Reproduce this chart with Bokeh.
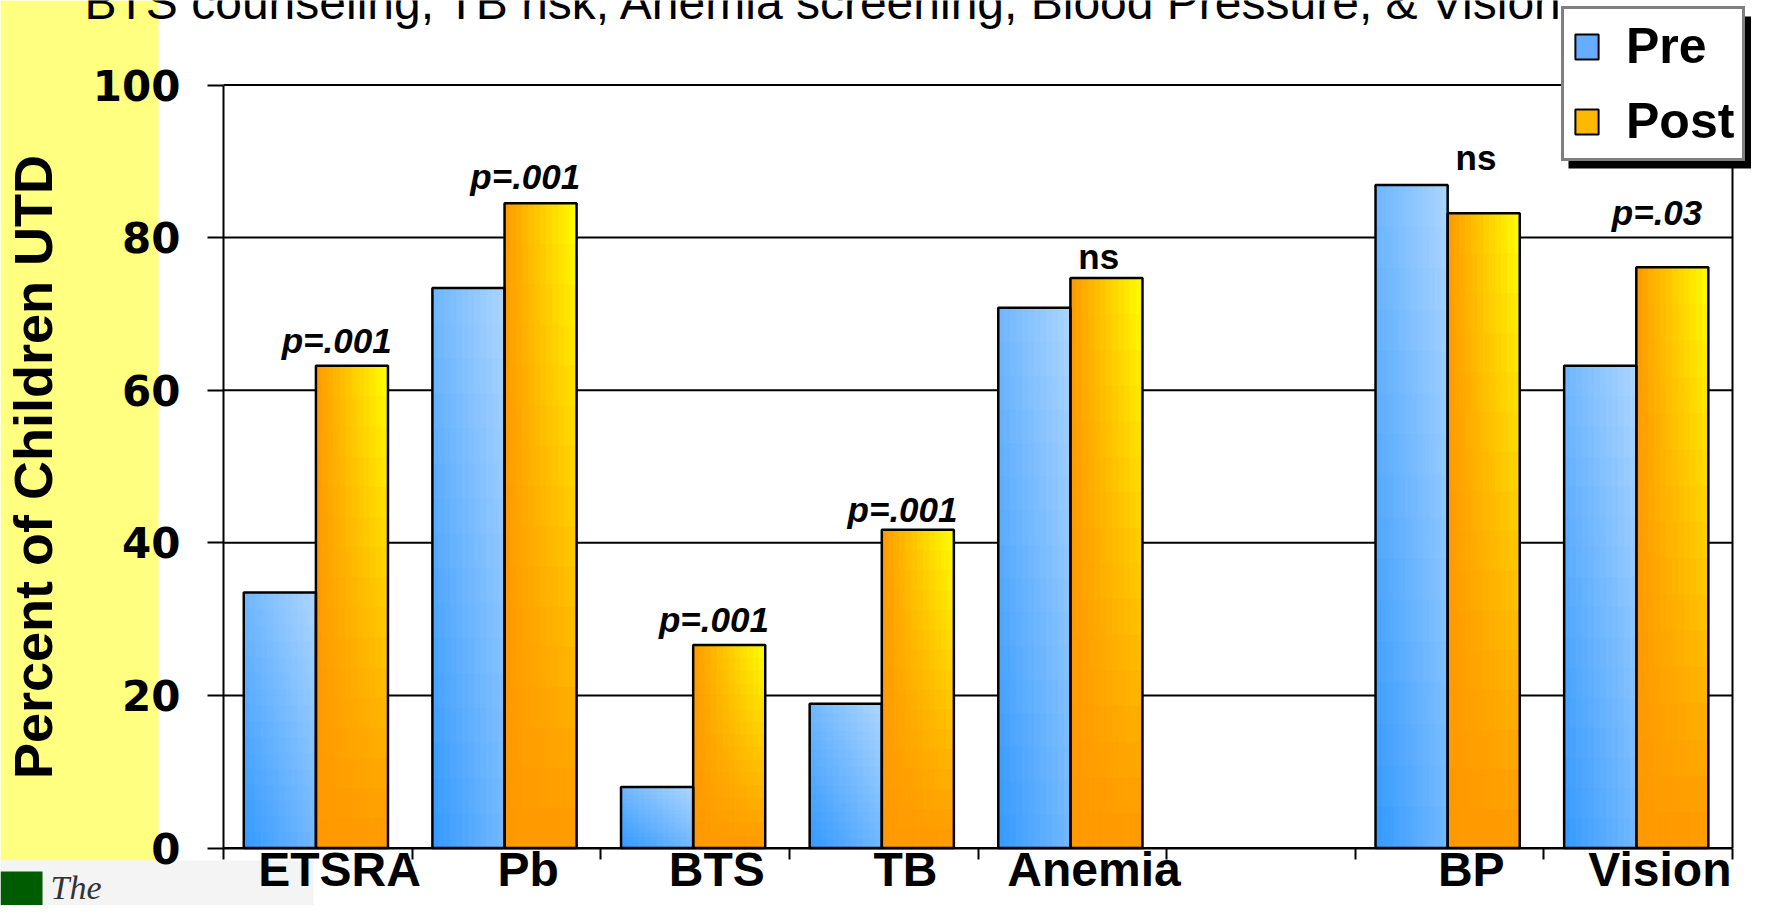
from bokeh.plotting import figure
from bokeh.models import (Range1d, FixedTicker, Legend, LegendItem, Label,
                          BoxAnnotation)
from bokeh.core.properties import value
from bokeh.embed import file_html
from bokeh.resources import INLINE

# ---------------- data ----------------
categories = ["ETSRA", "Pb", "BTS", "TB", "Anemia", "", "BP", "Vision"]
pre = [33.5, 73.4, 8.0, 18.9, 70.8, None, 86.9, 63.2]
post = [63.2, 84.5, 26.6, 41.7, 74.7, None, 83.2, 76.1]
notes = ["p=.001", "p=.001", "p=.001", "p=.001", "ns", "", "ns", "p=.03"]
note_heights = [65.0, 86.4, 28.4, 42.8, 75.9, None, 88.9, 81.7]
y_ticks = [0, 20, 40, 60, 80, 100]
series_names = ["Pre", "Post"]
title_text = "BTS counseling, TB risk, Anemia screening, Blood Pressure, & Vision"
y_title = "Percent of Children UTD"

# ---------------- layout (pixels) ----------------
W, H = 1751, 905
AX_L, AX_R = 223.0, 1732.0      # x pixel of category axis start / end
Y100, Y0 = 84.5, 847.5          # y pixel of 100 and 0
n = len(categories)
slot = (AX_R - AX_L) / n
unit = (Y0 - Y100) / 100.0

p = figure(width=W, height=H, output_backend="svg", toolbar_location=None,
           x_range=Range1d(-AX_L / slot, n + (W - AX_R) / slot),
           y_range=Range1d(-(H - Y0) / unit, 100 + Y100 / unit),
           min_border=0, min_border_left=0, min_border_right=0,
           min_border_top=0, min_border_bottom=0)
p.background_fill_color = "white"
p.border_fill_color = "white"
p.outline_line_color = None
p.xgrid.visible = False
p.ygrid.visible = False


def sbox(x0, x1, y0, y1, color, level="underlay"):
    """screen-space box given top-left pixel coordinates"""
    return BoxAnnotation(left=x0, right=x1, top=H - y0, bottom=H - y1,
                         left_units="screen", right_units="screen",
                         top_units="screen", bottom_units="screen",
                         fill_color=color, fill_alpha=1, line_alpha=0,
                         level=level)


# background decorations (yellow strip, logo block)
p.add_layout(sbox(0, 158, 0, 860, "#ffff80"))
p.add_layout(sbox(0, 313, 860, H, "#f4f4f4"))
p.add_layout(sbox(0, 42, 871, H, "#005c00"))
p.add_layout(Label(x=50, y=0, x_units="screen", y_units="screen",
                   text="The", text_font="Liberation Serif", text_font_style="italic",
                   text_font_size="34px", text_color="#333333", text_baseline="bottom"))

# top (cut-off) subtitle text: baseline at ~19px from the top
p.add_layout(Label(x=84, y=H - 19 + 0.3465 * 48, x_units="screen", y_units="screen",
                   text=title_text, text_font="Liberation Sans", text_font_size="48px",
                   text_color="black", text_baseline="middle"))

# grid lines and right border
p.segment(x0=[0] * len(y_ticks), x1=[n] * len(y_ticks), y0=y_ticks, y1=y_ticks,
          line_color="black", line_width=2)
p.segment(x0=[n], x1=[n], y0=[0], y1=[100], line_color="black", line_width=2)

# ---------------- bars with gradient ----------------
def lerp(c0, c1, t):
    return "#%02x%02x%02x" % tuple(int(round(a + (b - a) * t)) for a, b in zip(c0, c1))


PRE0, PRE1 = (51, 153, 255), (172, 213, 255)
POST0, POST1 = (255, 153, 0), (255, 255, 0)
NX, NY = 12, 16

cells = {"left": [], "right": [], "bottom": [], "top": [], "color": []}
outl = {"left": [], "right": [], "bottom": [], "top": []}
for i, (a, b) in enumerate(zip(pre, post)):
    if a is None:
        continue
    for k, v in enumerate((a, b)):
        x0 = i + (0.1075 if k == 0 else 0.49)
        x1 = i + (0.49 if k == 0 else 0.872)
        outl["left"].append(x0); outl["right"].append(x1)
        outl["bottom"].append(0); outl["top"].append(v)
        for ix in range(NX):
            for iy in range(NY):
                xf = (ix + 0.5) / NX
                yf = (iy + 0.5) / NY
                if k == 0:
                    col = lerp(PRE0, PRE1, min(1.0, 0.5 * xf + 0.5 * yf))
                else:
                    col = lerp(POST0, POST1, min(1.0, xf * yf))
                cells["left"].append(x0 + (x1 - x0) * ix / NX)
                cells["right"].append(x0 + (x1 - x0) * (ix + 1) / NX)
                cells["bottom"].append(v * iy / NY)
                cells["top"].append(v * (iy + 1) / NY)
                cells["color"].append(col)

p.quad(left="left", right="right", bottom="bottom", top="top", source=cells,
       fill_color="color", line_color="color", line_width=1)
p.quad(left="left", right="right", bottom="bottom", top="top", source=outl,
       fill_color=None, line_color="black", line_width=2.5)

# dummy renderers for legend swatches (outside visible range)
r_pre = p.quad(left=[-50], right=[-50], bottom=[-50], top=[-50], fill_color="#66adff",
               line_color="black", line_width=2)
r_post = p.quad(left=[-50], right=[-50], bottom=[-50], top=[-50], fill_color="#ffb800",
                line_color="black", line_width=2)

# ---------------- significance notes ----------------
nx_p, ny_p, tx_p, nx_n, ny_n, tx_n = [], [], [], [], [], []
for i, (t, h) in enumerate(zip(notes, note_heights)):
    if not t:
        continue
    if t.startswith("p"):
        nx_p.append(i + 0.6); ny_p.append(h); tx_p.append(t)
    else:
        nx_n.append(i + 0.64); ny_n.append(h); tx_n.append(t)
p.text(x=nx_p, y=ny_p, text=tx_p, text_align="center", text_baseline="middle",
       y_offset=-12, text_font=value("Liberation Sans"), text_font_style="bold italic",
       text_font_size="35px", text_color="black")
p.text(x=nx_n, y=ny_n, text=tx_n, text_align="center", text_baseline="middle",
       y_offset=-12, text_font=value("Liberation Sans"), text_font_style="bold",
       text_font_size="35px", text_color="black")

# ---------------- axes ----------------
ya = p.yaxis[0]
ya.fixed_location = 0
ya.bounds = (0, 100)
ya.ticker = FixedTicker(ticks=y_ticks)
ya.axis_line_color = "black"
ya.axis_line_width = 2
ya.major_tick_out = 16
ya.major_tick_in = 0
ya.major_tick_line_width = 2
ya.minor_tick_line_color = None
ya.major_label_standoff = 27
ya.major_label_text_font = "DejaVu Sans"
ya.major_label_text_font_style = "bold"
ya.major_label_text_font_size = "42px"
ya.major_label_text_color = "black"
ya.axis_label = y_title
ya.axis_label_text_font = "Liberation Sans"
ya.axis_label_text_font_style = "bold"
ya.axis_label_text_font_size = "54px"
ya.axis_label_text_color = "black"
ya.axis_label_standoff = 27

label_pos = [i + 0.615 for i, c in enumerate(categories) if c]
xa = p.xaxis[0]
xa.fixed_location = 0
xa.bounds = (0, n)
xa.ticker = FixedTicker(ticks=label_pos, minor_ticks=list(range(n + 1)))
xa.major_label_overrides = {pos: c for pos, c in zip(label_pos, [c for c in categories if c])}
xa.axis_line_color = "black"
xa.axis_line_width = 2
xa.major_tick_line_color = None
xa.major_tick_out = 0
xa.major_tick_in = 0
xa.minor_tick_line_color = "black"
xa.minor_tick_line_width = 2
xa.minor_tick_out = 11
xa.minor_tick_in = 0
xa.major_label_standoff = -16
xa.major_label_text_font = "Liberation Sans"
xa.major_label_text_font_style = "bold"
xa.major_label_text_font_size = "48px"
xa.major_label_text_color = "black"

# ---------------- legend with drop shadow ----------------
LEG_L, LEG_B, LEG_W, LEG_H, SH = 1561, 161, 183, 152, 7
p.add_layout(sbox(LEG_L + SH, LEG_L + LEG_W + SH, LEG_B - LEG_H + SH, LEG_B + SH,
                  "black", level="annotation"))
items = [LegendItem(label=series_names[0], renderers=[r_pre]),
         LegendItem(label=series_names[1], renderers=[r_post])]
main = Legend(items=items, location=(LEG_L, H - LEG_B), orientation="vertical",
              padding=8, spacing=17, glyph_width=29, glyph_height=31, label_standoff=25,
              label_text_font="Liberation Sans", label_text_font_style="bold",
              label_text_font_size="50px", label_text_color="black",
              border_line_width=3, border_line_color="black", margin=0,
              background_fill_color="white", background_fill_alpha=1)
p.add_layout(main)

open("out.html", "w").write(file_html(p, INLINE))
